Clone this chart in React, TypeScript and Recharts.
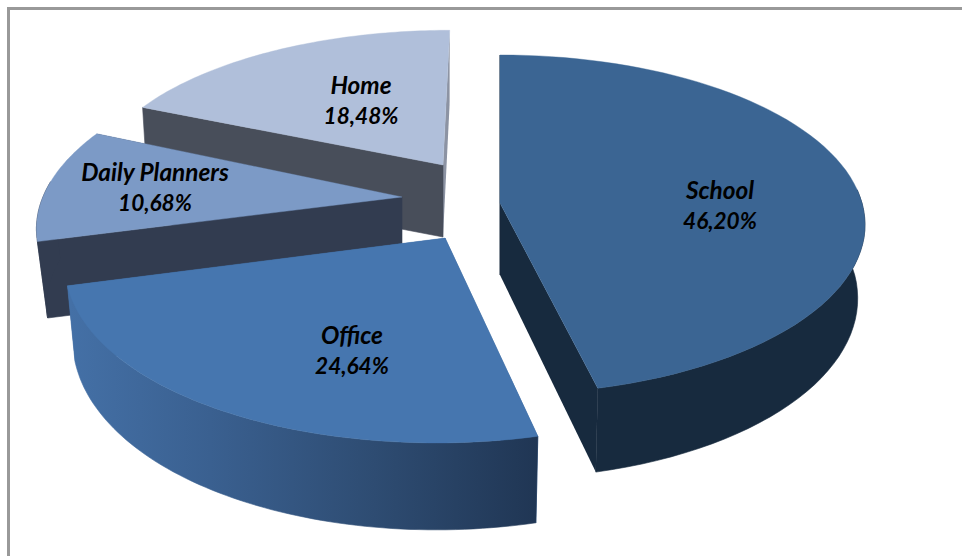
import React from "react";
import { PieChart, Pie } from "recharts";

const categories = ["Home", "Daily Planners", "Office", "School"];
const shares = [18.48, 10.68, 24.64, 46.2];
const shareLabels = ["18,48%", "10,68%", "24,64%", "46,20%"];

const chartData = categories.map((name, i) => ({ name, value: shares[i], text: shareLabels[i] }));

const VIEW = { X: 362, Y: 167, k: 0.128 };

type Look = {
  ax: number; ay: number; sx: number; sy: number; sh: number; bs: number; d0: number; d1: number;
  top: string; wall: string; startCut?: string; wallEnd?: string; gx?: [number, number]; lx: number; ly: number;
};
const looks: Record<string, Look> = {
  Home: { ax: 443, ay: 165, sx: 0.96, sy: 0.91, sh: -0.05, bs: 0.985, d0: 72, d1: 0, top: "#B0BFDA", wall: "#484E5A", startCut: "#8C93A3", lx: 361, ly: 84 },
  "Daily Planners": { ax: 402, ay: 197, sx: 0.992, sy: 1, sh: -0.13, bs: 0.972, d0: 77, d1: 0, top: "#7C9AC6", wall: "#323C50", lx: 155, ly: 171 },
  Office: { ax: 445, ay: 238, sx: 1.038, sy: 1.07, sh: -0.044, bs: 0.98, d0: 72, d1: 18, top: "#4676AF", wall: "#4470A6", wallEnd: "#203654", gx: [70, 538], lx: 352, ly: 334 },
  School: { ax: 500, ay: 203, sx: 1, sy: 1, sh: 0, bs: 0.98, d0: 72, d1: 15, top: "#3B6593", wall: "#172A3E", lx: 720, ly: 189 },
};

const rad = Math.PI / 180;
const depthOf = (deg: number) => -Math.sin(deg * rad);

function projector(l: Look) {
  return (deg: number, bottom: boolean): [number, number] => {
    const u = Math.cos(deg * rad);
    const v = depthOf(deg);
    const w = 1 - VIEW.k * v;
    const y0 = ((VIEW.Y * v) / w) * l.sy;
    const x0 = ((VIEW.X * u) / w) * l.sx + l.sh * y0;
    if (!bottom) return [l.ax + x0, l.ay + y0];
    return [l.ax + x0 * l.bs, l.ay + y0 * 0.985 + l.d0 + l.d1 * Math.max(v, 0)];
  };
}

function arc(p: (d: number, b: boolean) => [number, number], from: number, to: number, bottom: boolean, frontOnly = false) {
  const pts: string[] = [];
  const n = 72;
  for (let i = 0; i <= n; i++) {
    const deg = from + ((to - from) * i) / n;
    if (frontOnly && depthOf(deg) < -0.1) continue;
    const [x, y] = p(deg, bottom);
    pts.push(`${x.toFixed(1)} ${y.toFixed(1)}`);
  }
  return pts;
}

function SliceShape(props: any) {
  const name = props.name ?? props.payload?.name;
  const l = looks[name];
  if (!l) return null;
  const p = projector(l);
  const a0 = props.startAngle;
  const a1 = props.endAngle;
  const topPts = arc(p, a0, a1, false);
  const botPts = arc(p, a0, a1, true);
  const wallTop = arc(p, a0, a1, false, true);
  const wallBot = arc(p, a0, a1, true, true);
  const apexB = `${l.ax} ${l.ay + l.d0}`;
  const apexT = `${l.ax} ${l.ay}`;
  const id = `wall-${name.replace(/\s/g, "")}`;
  const wallFill = l.wallEnd ? `url(#${id})` : l.wall;
  const cut0 = l.startCut ?? l.wall;
  return (
    <g>
      {l.wallEnd && l.gx ? (
        <defs>
          <linearGradient id={id} gradientUnits="userSpaceOnUse" x1={l.gx[0]} x2={l.gx[1]} y1={0} y2={0}>
            <stop offset="0" stopColor={l.wall} />
            <stop offset="0.3" stopColor="#3A6090" />
            <stop offset="0.65" stopColor="#2E4C72" />
            <stop offset="1" stopColor={l.wallEnd} />
          </linearGradient>
        </defs>
      ) : null}
      <path d={`M${apexT} L${topPts[0]} L${botPts[0]} L${apexB} Z`} fill={cut0} />
      <path d={`M${apexT} L${topPts[topPts.length - 1]} L${botPts[botPts.length - 1]} L${apexB} Z`} fill={l.wall} stroke={l.wall} strokeWidth={0.6} />
      {wallTop.length > 1 ? (
        <path d={`M${wallTop.join(" L")} L${[...wallBot].reverse().join(" L")} Z`} fill={wallFill} stroke={wallFill} strokeWidth={0.6} />
      ) : null}
      <path d={`M${apexT} L${topPts.join(" L")} Z`} fill={l.top} stroke={l.top} strokeWidth={0.4} />
    </g>
  );
}

function SliceLabel(props: any) {
  const name = props.name ?? props.payload?.name;
  const l = looks[name];
  const text = props.text ?? props.payload?.text;
  if (!l) return null;
  const font = { fontFamily: "Lato", fontWeight: 700, fontStyle: "italic" as const, fill: "#000" };
  return (
    <g>
      <text x={l.lx} y={l.ly} textAnchor="middle" dominantBaseline="central" fontSize={24.4} {...font}>{name}</text>
      <text x={l.lx} y={l.ly + 31} textAnchor="middle" dominantBaseline="central" fontSize={22.6} {...font}>{text}</text>
    </g>
  );
}

export default function App() {
  return (
    <div style={{ position: "absolute", left: 0, top: 0, width: 962, height: 556, background: "#fff", overflow: "hidden" }}>
      <div style={{ position: "absolute", left: 7, top: 7, width: 955, height: 549, borderLeft: "3px solid #999", borderTop: "3px solid #999" }} />
      <div style={{ position: "absolute", left: 0, top: 0 }}>
        <PieChart width={962} height={556} margin={{ top: 0, right: 0, bottom: 0, left: 0 }}>
          <Pie
            data={chartData}
            dataKey="value"
            nameKey="name"
            cx={481}
            cy={278}
            outerRadius={200}
            startAngle={90}
            endAngle={450}
            paddingAngle={0}
            stroke="none"
            isAnimationActive={false}
            shape={SliceShape}
            label={SliceLabel}
            labelLine={false}
          />
        </PieChart>
      </div>
    </div>
  );
}
